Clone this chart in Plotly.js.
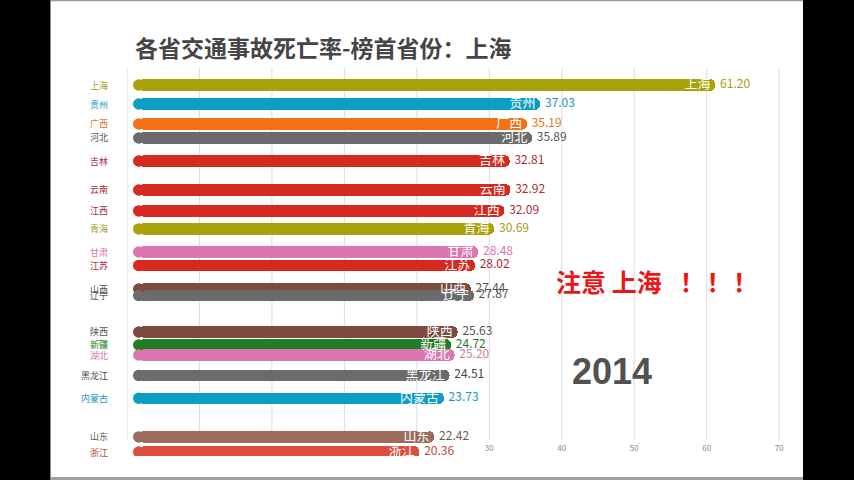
<!DOCTYPE html>
<html>
<head>
<meta charset="utf-8">
<script src="https://cdn.plot.ly/plotly-3.0.1.min.js"></script>
<style>
  html, body { margin: 0; padding: 0; background: #000; }
  #chart { width: 854px; height: 480px; }
</style>
</head>
<body>
<div id="chart"></div>
<script>
// ---- data (one frame of the bar race, year 2014) ----
const provinces = ['上海','贵州','广西','河北','吉林','云南','江西','青海','甘肃','江苏','山西','辽宁','陕西','新疆','湖北','黑龙江','内蒙古','山东','浙江'];
const deathRates = [61.20, 37.03, 35.19, 35.89, 32.81, 32.92, 32.09, 30.69, 28.48, 28.02, 27.44, 27.87, 25.63, 24.72, 25.20, 24.51, 23.73, 22.42, 20.36];
// interpolated rank of each bar in this animation frame
const rankPos = [1.00, 1.98, 3.01, 3.73, 4.92, 6.41, 7.49, 8.42, 9.61, 10.30, 11.52, 11.85, 13.73, 14.40, 14.92, 15.97, 17.15, 19.14, 19.92];
const yearLabel = '2014';
const titleText = '各省交通事故死亡率-榜首省份：上海';
const noteText = '注意 上海 \u2002！\u200a！\u200a！';
const tickValues = [-20, -10, 0, 10, 20, 30, 40, 50, 60, 70];
const shownTicks = [30, 40, 50, 60, 70];

// ---- styles ----
const C = {
  olive: '#aaa20a', cyan: '#0c9ec3', orange: '#f47214', gray: '#6b6b6b',
  red: '#d6291f', pink: '#dc76b3', brown: '#7c4b3d', green: '#1f7d22',
  lbrown: '#9b6b5c', lred: '#de4e3e'
};
const barColors = [C.olive, C.cyan, C.orange, C.gray, C.red, C.red, C.red, C.olive, C.pink, C.red,
                   C.brown, C.gray, C.brown, C.green, C.pink, C.gray, C.cyan, C.lbrown, C.lred];
const labelColors = ['#a39c14', '#1497bb', '#e6761e', '#555555', '#a72e36', '#a72e36', '#a72e36', '#a39c14', '#d07bb0', '#a72e36',
                     '#555555', '#555555', '#555555', '#227a26', '#d07bb0', '#444444', '#1497bb', '#6e5950', '#c0483c'];

const FONT = '"Noto Sans CJK SC", "Noto Sans", sans-serif';

// geometry
const W = 854, H = 480;
const XMIN = -20, XMAX = 71.5;
const PXU = 7.243;                         // pixels per unit
const ML = 127, MT = 70, MB = 24;
const MR = Math.round(W - ML - (XMAX - XMIN) * PXU);
const PW = W - ML - MR, PH = H - MT - MB;
const Y0 = 20.124, Y1 = 0.227;
const BAR_BASE = -18.38;   // bar start (rounded cap centre)
const BAR_W = 0.593;
const pxX = p => (p - ML) / PW;        // pixel -> paper x
const pxY = p => (H - MB - p) / PH;    // pixel -> paper y

const barTrace = {
  type: 'bar', orientation: 'h',
  y: rankPos,
  x: deathRates.map(v => v - BAR_BASE),
  base: BAR_BASE,
  width: BAR_W,
  marker: { color: barColors, cornerradius: 6, line: { width: 0 } },
  hoverinfo: 'skip', showlegend: false
};
const capTrace = {
  type: 'scatter', mode: 'markers',
  x: rankPos.map(() => BAR_BASE), y: rankPos,
  marker: { color: barColors, size: 11.5, line: { width: 0 } },
  hoverinfo: 'skip', showlegend: false
};
const nameTrace = {
  type: 'scatter', mode: 'markers+text',
  x: deathRates, y: rankPos, text: provinces,
  marker: { size: 6, opacity: 0 },
  textposition: 'middle left',
  textfont: { family: FONT, size: 13, color: '#ffffff' },
  hoverinfo: 'skip', showlegend: false
};
const valueTrace = {
  type: 'scatter', mode: 'markers+text',
  x: deathRates, y: rankPos, text: deathRates.map(v => v.toFixed(2)),
  marker: { size: 6, opacity: 0 },
  textposition: 'middle right',
  textfont: { family: FONT, size: 12, color: labelColors },
  hoverinfo: 'skip', showlegend: false
};

const annotations = provinces.map((p, i) => ({
  xref: 'x', yref: 'y', x: XMIN, y: rankPos[i], xanchor: 'right', yanchor: 'middle',
  xshift: -17, text: p, showarrow: false,
  font: { family: FONT, size: 9, color: labelColors[i] }
}));
annotations.push({
  xref: 'paper', yref: 'paper', x: pxX(554), y: pxY(281), xanchor: 'left', yanchor: 'middle',
  text: noteText, showarrow: false,
  font: { family: FONT, size: 25, color: '#ee1414', weight: 'bold' }
});
annotations.push({
  xref: 'paper', yref: 'paper', x: pxX(612), y: pxY(371), xanchor: 'center', yanchor: 'middle',
  text: yearLabel, showarrow: false,
  font: { family: '"Liberation Sans", Arial, sans-serif', size: 36, color: '#515151', weight: 'bold' }
});

const shapes = [];
// gridlines (end above the bottom clip)
tickValues.forEach(t => shapes.push({
  type: 'line', xref: 'x', yref: 'paper', x0: t, x1: t, y0: pxY(440), y1: pxY(68),
  line: { color: '#dcdcdc', width: 1 }, layer: 'below'
}));
// video-frame black side bands and border lines
shapes.push({ type: 'rect', xref: 'paper', yref: 'paper', x0: pxX(0), x1: pxX(50), y0: pxY(480), y1: pxY(0),
  fillcolor: '#000', line: { width: 0 }, layer: 'above' });
shapes.push({ type: 'rect', xref: 'paper', yref: 'paper', x0: pxX(803), x1: pxX(854), y0: pxY(480), y1: pxY(0),
  fillcolor: '#000', line: { width: 0 }, layer: 'above' });
shapes.push({ type: 'line', xref: 'paper', yref: 'paper', x0: pxX(50), x1: pxX(803), y0: pxY(0.5), y1: pxY(0.5),
  line: { color: '#9a9a9a', width: 1.5 }, layer: 'above' });
shapes.push({ type: 'rect', xref: 'paper', yref: 'paper', x0: pxX(50), x1: pxX(803), y0: pxY(480), y1: pxY(477),
  fillcolor: '#a0a0a0', line: { width: 0 }, layer: 'above' });
shapes.push({ type: 'line', xref: 'paper', yref: 'paper', x0: pxX(50.5), x1: pxX(50.5), y0: pxY(480), y1: pxY(0),
  line: { color: '#888', width: 1 }, layer: 'above' });

const layout = {
  width: W, height: H,
  margin: { l: ML, r: MR, t: MT, b: MB, pad: 0 },
  paper_bgcolor: '#ffffff', plot_bgcolor: 'rgba(0,0,0,0)',
  showlegend: false,
  title: {
    text: titleText, xref: 'container', yref: 'container',
    x: 135 / W, xanchor: 'left', y: 1 - 49 / H, yanchor: 'middle',
    font: { family: FONT, size: 23, color: '#454545', weight: 'bold' }
  },
  xaxis: {
    range: [XMIN, XMAX], showgrid: false, zeroline: false, showline: false,
    tickmode: 'array', tickvals: shownTicks, ticktext: shownTicks.map(String),
    ticks: '', ticklabelposition: 'inside',
    tickfont: { family: FONT, size: 8, color: '#8a8a8a' },
    fixedrange: true
  },
  yaxis: {
    range: [Y0, Y1], showgrid: false, zeroline: false, showline: false,
    showticklabels: false, ticks: '', fixedrange: true
  },
  bargap: 0,
  annotations: annotations,
  shapes: shapes
};

Plotly.newPlot('chart', [barTrace, capTrace, nameTrace, valueTrace], layout, { displayModeBar: false, staticPlot: true });
</script>
</body>
</html>
